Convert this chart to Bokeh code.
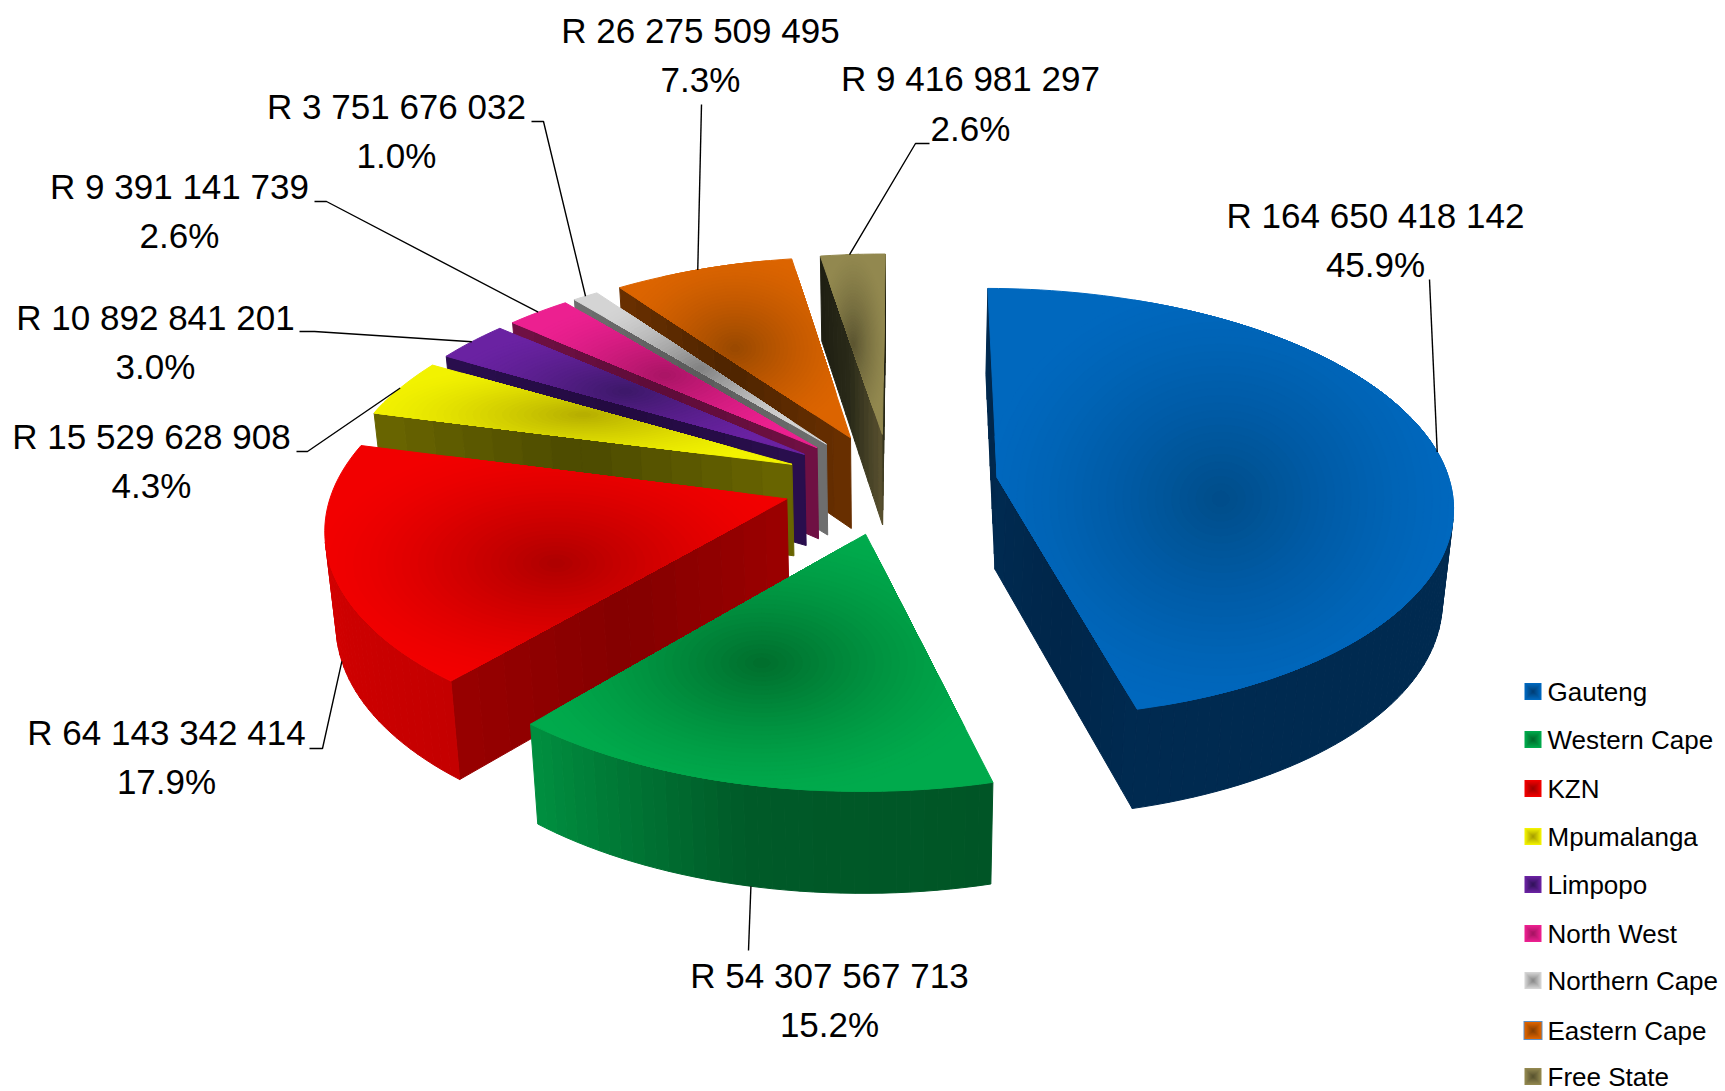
import math
from bokeh.plotting import figure
from bokeh.models import Range1d, ColumnDataSource
from bokeh.core.properties import value
from bokeh.embed import file_html
from bokeh.resources import INLINE

names = ["Gauteng", "Western Cape", "KZN", "Mpumalanga", "Limpopo", "North West", "Northern Cape", "Eastern Cape", "Free State"]
rand_values = [164650418142, 54307567713, 64143342414, 15529628908, 10892841201, 9391141739, 3751676032, 26275509495, 9416981297]
rand_labels = ["R 164 650 418 142", "R 54 307 567 713", "R 64 143 342 414", "R 15 529 628 908", "R 10 892 841 201", "R 9 391 141 739", "R 3 751 676 032", "R 26 275 509 495", "R 9 416 981 297"]
pct_labels = ["45.9%", "15.2%", "17.9%", "4.3%", "3.0%", "2.6%", "1.0%", "7.3%", "2.6%"]

# colours: top face edge / top face centre / radial side (end, middle, end) / rim (start, middle, end)
top_outer = ["#0068BE", "#00AA4C", "#F20000", "#F2F200", "#6A22A2", "#EC2090", "#D4D4D4", "#DC6400", "#92884F"]
top_inner = ["#004C88", "#006C2C", "#AC0000", "#B4AC00", "#3C1868", "#A81464", "#808080", "#984800", "#5A5430"]
side_stops = [
    ["#002A50", "#00264A", "#002A50"], ["#004A20", "#004A20", "#004A20"], ["#9C0000", "#840000", "#980000"],
    ["#6A6600", "#4C4A00", "#6A6600"], ["#2A0E4E", "#220A40", "#2A0E4E"], ["#701044", "#5E0C38", "#701044"],
    ["#707070", "#5A5A5A", "#707070"], ["#6A3000", "#4E2400", "#6A3000"], ["#5A5230", "#2A2A18", "#1E1E12"],
]
rim_stops = [
    ["#002A50", "#002A50", "#002A50"], ["#005526", "#005A28", "#009040"], ["#C40000", "#D00000", "#E80000"],
    ["#6A6600", "#6A6600", "#6A6600"], ["#2A0E4E", "#2A0E4E", "#2A0E4E"], ["#701044", "#701044", "#701044"],
    ["#707070", "#707070", "#707070"], ["#6A3000", "#6A3000", "#6A3000"], ["#5A5230", "#5A5230", "#5A5230"],
]
legend_inner = ["#003F77", "#006C2C", "#A00000", "#A8A000", "#33135C", "#A81464", "#8C8C8C", "#8A4000", "#5A5430"]

# projection of the exploded 3-D pie onto the page (page pixels)
CX, CY, RX, RY, DEPTH, EXPLODE, PERSP, SHRINK, START = 890, 483, 453, 213, 94, 0.238, 0.12, 0.02, 0.3


def project(x, y, z):
    s = (1 - SHRINK * z) / (1 - PERSP * y)
    return CX + RX * x * s, CY + RY * y * s + DEPTH * z * s


def hex2rgb(h):
    return tuple(int(h[i:i + 2], 16) for i in (1, 3, 5))


def lerp(a, b, t):
    a, b = hex2rgb(a), hex2rgb(b)
    return "#%02x%02x%02x" % tuple(round(a[i] + (b[i] - a[i]) * t) for i in range(3))


def stops(cs, t):
    return lerp(cs[0], cs[1], t * 2) if t < .5 else lerp(cs[1], cs[2], t * 2 - 1)


def signed_area(q):
    return sum(q[i][0] * q[(i + 1) % len(q)][1] - q[(i + 1) % len(q)][0] * q[i][1] for i in range(len(q)))


def clip(subject, window):
    """Sutherland-Hodgman: cut polygon `subject` to the convex polygon `window`."""
    sign = 1 if signed_area(window) > 0 else -1
    out = subject
    for i in range(len(window)):
        a, b = window[i], window[(i + 1) % len(window)]
        side = lambda q: sign * ((b[0] - a[0]) * (q[1] - a[1]) - (b[1] - a[1]) * (q[0] - a[0]))
        cur, out = out, []
        for j in range(len(cur)):
            u, v = cur[j], cur[(j + 1) % len(cur)]
            su, sv = side(u), side(v)
            if su >= 0:
                out.append(u)
            if su * sv < 0:
                r = su / (su - sv)
                out.append((u[0] + (v[0] - u[0]) * r, u[1] + (v[1] - u[1]) * r))
        if not out:
            return []
    return out


total = sum(rand_values)
layers = []


def add(store, poly, color):
    store.append(([q[0] for q in poly], [q[1] for q in poly], color))


def face(store, a3, b3, color):
    """One vertical wall between two rim/apex points; drawn only if it faces the viewer."""
    q = [project(*a3, 0), project(*b3, 0), project(*b3, 1), project(*a3, 1)]
    if signed_area(q) < 0:
        add(store, q, color)


geo = []
cum = 0.0
for i, v in enumerate(rand_values):
    store = []
    th0 = START + 360 * cum / total
    th1 = th0 + 360 * v / total
    cum += v
    mid = math.radians((th0 + th1) / 2)
    ax, ay = EXPLODE * math.sin(mid), -EXPLODE * math.cos(mid)
    geo.append((th0, th1, ax, ay))
    n = max(6, int((th1 - th0) / 1.5))
    rim = []
    for j in range(n + 1):
        t = math.radians(th0 + (th1 - th0) * j / n)
        rim.append((ax + math.sin(t), ay - math.cos(t)))
    # walls
    steps = 14
    for j in range(steps):
        t0, t1 = j / steps, (j + 1) / steps
        col = stops(side_stops[i], (t0 + t1) / 2)
        p0 = (ax + (rim[0][0] - ax) * t0, ay + (rim[0][1] - ay) * t0)
        p1 = (ax + (rim[0][0] - ax) * t1, ay + (rim[0][1] - ay) * t1)
        face(store, p0, p1, col)
        e0 = (ax + (rim[-1][0] - ax) * t1, ay + (rim[-1][1] - ay) * t1)
        e1 = (ax + (rim[-1][0] - ax) * t0, ay + (rim[-1][1] - ay) * t0)
        face(store, e0, e1, col)
    for j in range(n):
        face(store, rim[j], rim[j + 1], stops(rim_stops[i], (j + .5) / n))
    # top: base fill, then elliptical shading clipped to the slice
    top = [project(ax, ay, 0)] + [project(*r, 0) for r in rim]
    add(store, top, top_outer[i])
    xs_, ys_ = [q[0] for q in top], [q[1] for q in top]
    gx, gy = (min(xs_) + max(xs_)) / 2, (min(ys_) + max(ys_)) / 2
    hw, hh = (max(xs_) - min(xs_)) / 2, (max(ys_) - min(ys_)) / 2
    levels = 30
    for l in range(1, levels):
        f = 1.05 * (1 - l / levels)
        ell = [(gx + hw * f * math.cos(2 * math.pi * a / 48), gy + hh * f * math.sin(2 * math.pi * a / 48)) for a in range(48)]
        cut = clip(ell, top)
        if cut:
            add(store, cut, lerp(top_outer[i], top_inner[i], (l / levels) ** 1.4))
    layers.append(store)

# painter's order: from the back slices round to the front ones
px, py, pc = [], [], []
for i in reversed(range(len(names))):
    for x_, y_, c_ in layers[i]:
        px.append(x_)
        py.append(y_)
        pc.append(c_)

p = figure(width=1725, height=1091, x_range=Range1d(0, 1725), y_range=Range1d(1091, 0),
           toolbar_location=None, tools="", output_backend="svg", min_border=0,
           background_fill_color="white", border_fill_color="white")
p.axis.visible = False
p.grid.visible = False
p.outline_line_color = None

p.patches(xs="x", ys="y", fill_color="c", line_color="c", line_width=1.0,
          source=ColumnDataSource(dict(x=px, y=py, c=pc)))

# leader lines: start point beside the label, end on the slice's rim
leader_start = [[(1429, 279)], [(748, 950)], [(309, 748), (322, 748)], [(296, 451), (307, 451)], [(299, 331), (314, 331)],
                [(314, 201), (326, 201)], [(531, 121), (543, 121)], [(701, 104)], [(929, 143), (915, 143)]]
leader_end = [(0.5, 0), (0.49, 1), (0.5, 1), (0.5, 0), (0.5, 0), (0.5, 0), (0.5, 0), (0.47, 0), (0.45, 0)]
lx, ly = [], []
for i in range(9):
    th0, th1, ax, ay = geo[i]
    t = math.radians(th0 + (th1 - th0) * leader_end[i][0])
    e = project(ax + math.sin(t), ay - math.cos(t), leader_end[i][1])
    pts = leader_start[i] + [e]
    lx.append([q[0] for q in pts])
    ly.append([q[1] for q in pts])
p.multi_line(xs=lx, ys=ly, line_color="black", line_width=1.4)

# data labels
label_x = [1375, 829, 166, 151, 155, 179, 396, 700, 970]
label_y1 = [214.5, 974.5, 731.5, 435.5, 316.5, 185.5, 105.5, 29.5, 77.5]
label_y2 = [263.5, 1023.5, 780.5, 484.5, 365.5, 234.5, 154.5, 78.5, 127.5]
font = value("Liberation Sans")
p.text(x=label_x, y=label_y1, text=rand_labels, text_font=font, text_font_size="35px", text_color="black",
       text_align="center", text_baseline="middle")
p.text(x=label_x, y=label_y2, text=pct_labels, text_font=font, text_font_size="35px", text_color="black",
       text_align="center", text_baseline="middle")

# legend
legend_y = [691, 739, 788, 836, 884, 933, 980, 1030, 1076]
SQ = 8.5
lgx, lgy, lgc = [], [], []
for i, yc in enumerate(legend_y):
    xc = 1532.5
    if names[i] == "Eastern Cape":
        lgx.append([xc - SQ - 1, xc + SQ + 1, xc + SQ + 1, xc - SQ - 1])
        lgy.append([yc - SQ - 1, yc - SQ - 1, yc + SQ + 1, yc + SQ + 1])
        lgc.append("#5B8FC8")
    for l in range(7):
        f = SQ * (1 - l / 7)
        lgx.append([xc - f, xc + f, xc + f, xc - f])
        lgy.append([yc - f, yc - f, yc + f, yc + f])
        lgc.append(lerp(top_outer[i], legend_inner[i], l / 6))
p.patches(xs=lgx, ys=lgy, fill_color=lgc, line_color=None)
p.text(x=[1547] * 9, y=legend_y, text=names, text_font=font, text_font_size="26px", text_color="black",
       text_align="left", text_baseline="middle")

open("out.html", "w").write(file_html(p, INLINE))
